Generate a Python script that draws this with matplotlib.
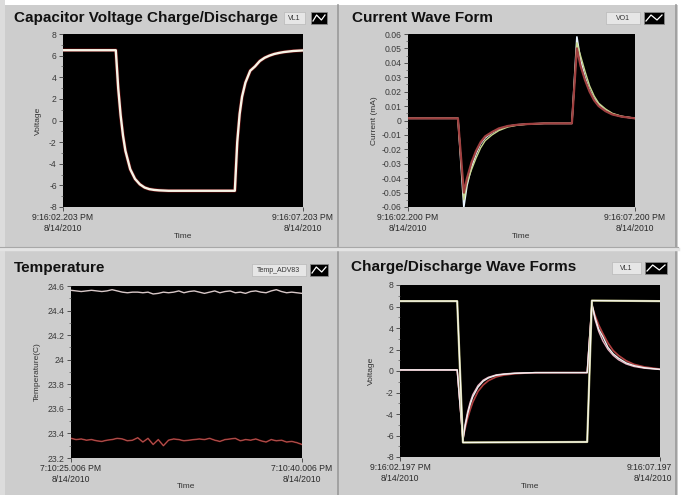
import matplotlib
matplotlib.use("Agg")
import matplotlib.pyplot as plt
from matplotlib.patches import Rectangle
from matplotlib.lines import Line2D
import matplotlib.transforms as mtrans
import numpy as np

plt.rcParams['axes.unicode_minus'] = False
plt.rcParams['font.family'] = ['Liberation Sans', 'DejaVu Sans']

# ---------------- data ----------------
# Panel 1: capacitor voltage (s, V)
cap_t = [0, 1.10, 1.15, 1.20, 1.25, 1.30, 1.40, 1.50, 1.60, 1.70, 1.80, 1.90, 2.00,
         2.20, 2.40, 3.00, 3.58, 3.63, 3.68, 3.73, 3.80, 3.90, 4.00, 4.10, 4.20,
         4.30, 4.40, 4.50, 4.60, 4.80, 5.00]
cap_v = [6.5, 6.5, 3.0, 0.5, -1.4, -2.8, -4.5, -5.4, -5.9, -6.2, -6.35, -6.42, -6.46,
         -6.5, -6.5, -6.5, -6.5, -2.0, 0.6, 2.2, 3.5, 4.6, 5.0, 5.5, 5.8,
         6.0, 6.15, 6.25, 6.33, 6.43, 6.48]

# Panel 2: current (s, mA)
cur_t = [0, 1.10, 1.23, 1.30, 1.40, 1.50, 1.60, 1.70, 1.85, 2.00, 2.20, 2.40, 2.60,
         3.00, 3.61, 3.72, 3.80, 3.90, 4.00, 4.10, 4.20, 4.35, 4.50, 4.70, 5.00]
cur_white = [0.0015, 0.0015, -0.060, -0.045, -0.032, -0.023, -0.016, -0.012, -0.0085,
             -0.006, -0.004, -0.003, -0.0025, -0.002, -0.002, 0.058, 0.042, 0.030,
             0.021, 0.015, 0.011, 0.007, 0.0045, 0.0028, 0.0015]
cur_green = [0.0015, 0.0015, -0.055, -0.043, -0.034, -0.026, -0.019, -0.014, -0.010,
             -0.007, -0.0045, -0.0033, -0.0027, -0.002, -0.002, 0.054, 0.045, 0.034,
             0.024, 0.017, 0.012, 0.008, 0.005, 0.003, 0.0015]
cur_red = [0.0015, 0.0015, -0.050, -0.040, -0.029, -0.021, -0.015, -0.011, -0.008,
           -0.0055, -0.0038, -0.003, -0.0025, -0.002, -0.002, 0.050, 0.038, 0.028,
           0.020, 0.014, 0.010, 0.0065, 0.0042, 0.0027, 0.0015]

# Panel 3: temperature (C) over 15 s
temp_hi = [24.565, 24.56, 24.555, 24.56, 24.565, 24.56, 24.555, 24.56, 24.57, 24.56,
           24.55, 24.545, 24.55, 24.55, 24.545, 24.55, 24.535, 24.54, 24.55, 24.545,
           24.55, 24.56, 24.545, 24.555, 24.56, 24.55, 24.54, 24.55, 24.56, 24.545,
           24.555, 24.56, 24.545, 24.55, 24.54, 24.555, 24.56, 24.55, 24.545, 24.56,
           24.57, 24.555, 24.545, 24.55, 24.545, 24.54]
temp_lo = [23.36, 23.35, 23.355, 23.345, 23.35, 23.34, 23.335, 23.345, 23.35, 23.36,
           23.355, 23.34, 23.345, 23.365, 23.33, 23.36, 23.31, 23.35, 23.30, 23.345,
           23.355, 23.35, 23.34, 23.345, 23.35, 23.355, 23.35, 23.36, 23.345, 23.335,
           23.35, 23.355, 23.36, 23.34, 23.35, 23.345, 23.355, 23.34, 23.33, 23.35,
           23.34, 23.345, 23.33, 23.335, 23.325, 23.31]
temp_t = np.linspace(0, 15, len(temp_hi))

# Panel 4: charge/discharge wave forms (s, V)
sq_t = [0, 1.10, 1.21, 3.60, 3.69, 5.0]
sq_v = [6.5, 6.5, -6.65, -6.6, 6.55, 6.5]
cd_t = [0, 1.10, 1.21, 1.25, 1.30, 1.35, 1.40, 1.50, 1.60, 1.70, 1.85, 2.00, 2.20,
        2.40, 2.60, 3.00, 3.60, 3.69, 3.75, 3.82, 3.90, 4.00, 4.10, 4.20, 4.35,
        4.50, 4.70, 5.00]
cd_white = [0.1, 0.1, -6.5, -5.2, -4.0, -3.1, -2.4, -1.5, -0.95, -0.65, -0.4, -0.3,
            -0.22, -0.18, -0.15, -0.15, -0.15, 6.3, 5.0, 3.9, 3.2, 2.2, 1.6, 1.2,
            0.75, 0.5, 0.3, 0.15]
cd_pink = [0.1, 0.1, -6.4, -5.0, -3.8, -2.9, -2.2, -1.35, -0.85, -0.58, -0.36, -0.27,
           -0.2, -0.17, -0.15, -0.15, -0.15, 6.2, 4.8, 3.7, 2.8, 2.0, 1.45, 1.05,
           0.65, 0.42, 0.26, 0.14]
cd_red = [0.1, 0.1, -6.3, -5.4, -4.4, -3.6, -2.9, -1.9, -1.3, -0.9, -0.55, -0.38,
          -0.26, -0.2, -0.16, -0.15, -0.15, 6.1, 5.2, 4.3, 3.5, 2.6, 1.9, 1.45,
          0.95, 0.62, 0.38, 0.18]

titles = ["Capacitor Voltage Charge/Discharge", "Current Wave Form",
          "Temperature", "Charge/Discharge Wave Forms"]
legend_names = ["VL1", "VO1", "Temp_ADV83", "VL1"]
ylabels = ["Voltage", "Current (mA)", "Temperature(C)", "Voltage"]
xticklabels = [["9:16:02.203 PM\n8/14/2010", "9:16:07.203 PM\n8/14/2010"],
               ["9:16:02.200 PM\n8/14/2010", "9:16:07.200 PM\n8/14/2010"],
               ["7:10:25.006 PM\n8/14/2010", "7:10:40.006 PM\n8/14/2010"],
               ["9:16:02.197 PM\n8/14/2010", "9:16:07.197\n8/14/2010"]]

# ---------------- figure ----------------
W, H = 684, 495
fig = plt.figure(figsize=(W / 100, H / 100), dpi=100)
fig.patch.set_facecolor('#cdcdcd')


def frac(x0, y0, x1, y1):
    return [x0 / W, 1 - y1 / H, (x1 - x0) / W, (y1 - y0) / H]


def px(x, y):
    return x / W, 1 - y / H


# white margins and separators
fig.add_artist(Rectangle((0, 1 - 5 / H), 1, 5 / H, transform=fig.transFigure,
                         facecolor='white', edgecolor='none'))
fig.add_artist(Rectangle((678 / W, 0), 6 / W, 1, transform=fig.transFigure,
                         facecolor='white', edgecolor='none'))
fig.add_artist(Rectangle((0, 0), 5 / W, 1, transform=fig.transFigure,
                         facecolor='#dcdcdc', edgecolor='none'))
for xs in [338, 676]:
    fig.add_artist(Line2D([xs / W, xs / W], [0, 1 - 5 / H], transform=fig.transFigure,
                          color='#9a9a9a', lw=1.2))
fig.add_artist(Line2D([0, 678 / W], [1 - 249 / H, 1 - 249 / H], transform=fig.transFigure,
                      color='#e4e4e4', lw=2.5))
fig.add_artist(Line2D([0, 678 / W], [1 - 247 / H, 1 - 247 / H], transform=fig.transFigure,
                      color='#a8a8a8', lw=0.8))

axes_px = [(63, 34, 303, 207), (408, 34, 635, 207), (71, 286, 302, 458), (400, 285, 660, 457)]
title_px = [(14, 18), (352, 18), (14, 268), (351, 267)]
legend_px = [(284, 18, 305), (606, 18, 640), (252, 270, 306), (612, 268, 641)]
icon_px = [(311, 12, 327, 24), (644, 12, 664, 24), (310, 264, 328, 276), (645, 262, 667, 274)]
ylabel_px = [38, 374, 37, 371]
xlabel_y = [237, 237, 487, 487]

ylims = [(-8, 8), (-0.06, 0.06), (23.2, 24.6), (-8, 8)]
yticks = [np.arange(-8, 8.1, 2), np.round(np.arange(-0.06, 0.0601, 0.01), 2),
          np.round(np.arange(23.2, 24.61, 0.2), 1), np.arange(-8, 8.1, 2)]
xmax = [5, 5, 15, 5]

axs = []
for i in range(4):
    ax = fig.add_axes(frac(*axes_px[i]))
    ax.set_facecolor('black')
    for s in ax.spines.values():
        s.set_visible(False)
    ax.set_xlim(0, xmax[i])
    ax.set_ylim(*ylims[i])
    ax.set_yticks(yticks[i])
    ax.set_yticklabels(['{:g}'.format(v) for v in yticks[i]])
    ax.set_xticks([0, xmax[i]])
    ax.set_xticklabels(xticklabels[i], linespacing=1.25)
    ax.tick_params(axis='both', labelsize=6.2, colors='#3a3a3a', length=3, width=0.6,
                   direction='out', pad=1.5)
    ax.tick_params(axis='y', labelcolor='#3a3a3a')
    ax.tick_params(axis='x', labelcolor='#2a2a2a')
    yt = yticks[i]
    step = yt[1] - yt[0]
    ax.set_yticks(np.arange(yt[0] + step / 2, yt[-1], step), minor=True)
    ax.tick_params(axis='y', which='minor', length=1.5, width=0.5, colors='#5a5a5a')
    axs.append(ax)

    # title
    tx, ty = px(*title_px[i])
    fig.text(tx, ty, titles[i], fontsize=11, fontweight='bold', color='#111111',
             ha='left', va='center')
    # legend label box
    lx0, ly, lx1 = legend_px[i]
    fig.add_artist(Rectangle(px(lx0, ly + 6), (lx1 - lx0) / W, 12 / H,
                             transform=fig.transFigure, facecolor='#e6e6e6',
                             edgecolor='#b8b8b8', lw=0.5))
    cx, cy = px((lx0 + lx1) / 2, ly)
    fig.text(cx, cy, legend_names[i], fontsize=5, color='#333333', ha='center', va='center')
    # legend icon
    ix0, iy0, ix1, iy1 = icon_px[i]
    fig.add_artist(Rectangle(px(ix0, iy1), (ix1 - ix0) / W, (iy1 - iy0) / H,
                             transform=fig.transFigure, facecolor='black',
                             edgecolor='#888888', lw=0.6))
    zx = [ix0 + 2, ix0 + (ix1 - ix0) * 0.35, ix0 + (ix1 - ix0) * 0.65, ix1 - 2]
    zy = [iy1 - 3, iy0 + 3, iy1 - 4, iy0 + 3]
    fig.add_artist(Line2D([z / W for z in zx], [1 - z / H for z in zy],
                          transform=fig.transFigure, color='white', lw=0.9))
    # axis labels
    x0, y0, x1, y1 = axes_px[i]
    fig.text(ylabel_px[i] / W, 1 - (y0 + y1) / 2 / H, ylabels[i], rotation=90,
             fontsize=6, color='#333333', ha='center', va='center')
    fig.text((x0 + x1) / 2 / W, 1 - xlabel_y[i] / H, 'Time', fontsize=6,
             color='#333333', ha='center', va='center')

# panel 4 right tick label right-aligned (cut at panel edge)
lbls = axs[3].get_xticklabels()
lbls[1].set_ha('right')
lbls[1].set_multialignment('right')
lbls[1].set_transform(lbls[1].get_transform() + mtrans.ScaledTranslation(12 / 100, 0, fig.dpi_scale_trans))

# ---------------- plots ----------------
a = axs[0]
a.plot(cap_t, cap_v, color='#5a0c0c', lw=2.6)
a.plot(cap_t, cap_v, color='#f6f4e6', lw=1.7)

a = axs[1]
a.plot(cur_t, cur_white, color='#e8f4ff', lw=1.2)
a.plot(cur_t, cur_green, color='#c8d890', lw=1.0)
a.plot(cur_t, cur_red, color='#a04040', lw=1.6)

a = axs[2]
a.plot(temp_t, temp_hi, color='#d8c8c8', lw=1.0)
a.plot(temp_t, temp_lo, color='#902222', lw=1.2)
a.plot(temp_t, temp_lo, color='#e0c0b0', lw=0.4, alpha=0.5)

a = axs[3]
a.plot(cd_t, cd_red, color='#b04040', lw=1.2)
a.plot(cd_t, cd_pink, color='#e8b0c0', lw=1.0)
a.plot(cd_t, cd_white, color='#f0f0f0', lw=1.0)
a.plot(sq_t, sq_v, color='#b8b880', lw=1.6)
a.plot(sq_t, sq_v, color='#fafaf0', lw=0.9)

fig.savefig('out.png', dpi=100, facecolor=fig.get_facecolor())
